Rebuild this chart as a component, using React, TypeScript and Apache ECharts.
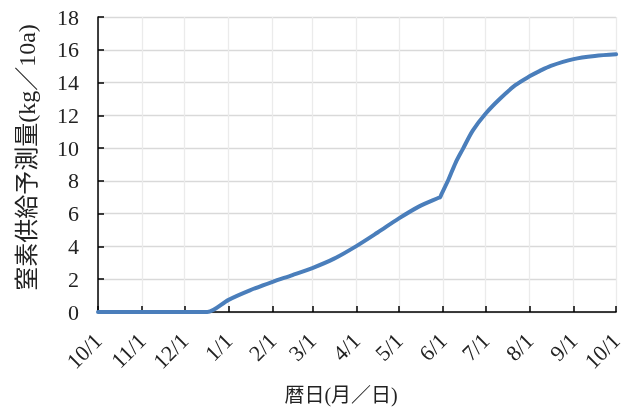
import React, { useEffect, useRef } from "react";
import * as echarts from "echarts";

// Daily calendar from 10/1 to next 10/1 (non-leap year)
const START = new Date(2021, 9, 1);
const DAY_COUNT = 366;
const categories: string[] = [];
for (let i = 0; i < DAY_COUNT; i++) {
  const d = new Date(START.getFullYear(), START.getMonth(), START.getDate() + i);
  categories.push(`${d.getMonth() + 1}/${d.getDate()}`);
}

// Day index (days since 10/1) and predicted nitrogen supply (kg/10a)
const dayIndex = [0, 76, 77, 92, 107, 123, 137, 151, 166, 182, 197, 212, 226, 240, 241, 242, 247, 252, 257, 264, 273, 283, 294, 304, 311, 319, 335, 350, 365];
const nitrogen = [0, 0, 0, 0.74, 1.32, 1.84, 2.25, 2.68, 3.24, 4.02, 4.85, 5.71, 6.43, 6.97, 7.0, 7.19, 8.1, 9.12, 9.94, 11.07, 12.1, 13.0, 13.84, 14.38, 14.7, 15.02, 15.43, 15.62, 15.72];

const yTicks = { min: 0, max: 18, interval: 2 };
const xName = "暦日(月／日)";
const yName = "窒素供給予測量(kg／10a)";

const FONT = "Liberation Serif, Noto Sans CJK JP, serif";

export default function App() {
  const ref = useRef<HTMLDivElement>(null);
  useEffect(() => {
    if (!ref.current) return;
    const chart = echarts.init(ref.current, undefined, { renderer: "svg", width: 626, height: 410 });
    const isMonthStart = (_i: number, v: string) => /\/1$/.test(v);
    chart.setOption({
      animation: false,
      grid: { left: 98, right: 9, top: 17, bottom: 98, containLabel: false },
      xAxis: {
        type: "category",
        data: categories,
        boundaryGap: false,
        name: xName,
        nameLocation: "middle",
        nameGap: 73,
        nameTextStyle: { fontFamily: FONT, fontSize: 20, color: "#222", padding: [0, 32, 0, 0] },
        axisLine: { lineStyle: { color: "#000", width: 1.5 } },
        axisTick: { show: true, inside: true, length: 6, interval: isMonthStart, lineStyle: { color: "#000", width: 1.5 } },
        axisLabel: {
          interval: isMonthStart,
          rotate: 45,
          fontFamily: FONT,
          fontSize: 22,
          color: "#222",
          margin: 25,
        },
        splitLine: { show: true, interval: isMonthStart, lineStyle: { color: "#ebebeb", width: 1.3 } },
      },
      yAxis: {
        type: "value",
        min: yTicks.min,
        max: yTicks.max,
        interval: yTicks.interval,
        name: yName,
        nameLocation: "middle",
        nameRotate: 90,
        nameGap: 59,
        nameTextStyle: { fontFamily: FONT, fontSize: 24, color: "#222", padding: [0, 0, 0, 14] },
        axisLine: { show: true, lineStyle: { color: "#000", width: 1.5 } },
        axisTick: { show: true, inside: true, length: 6, lineStyle: { color: "#000", width: 1.5 } },
        axisLabel: { fontFamily: FONT, fontSize: 22, color: "#222", margin: 19 },
        splitLine: { show: true, lineStyle: { color: "#d9d9d9", width: 1.3 } },
      },
      series: [
        {
          type: "line",
          data: dayIndex.map((d, i) => [d, nitrogen[i]]),
          showSymbol: false,
          smooth: 0.3,
          lineStyle: { color: "#4a7ebb", width: 4, cap: "round", join: "round" },
          itemStyle: { color: "#4a7ebb" },
        },
      ],
    });
    return () => chart.dispose();
  }, []);
  return (
    <div
      ref={ref}
      style={{ position: "fixed", left: 0, top: 0, width: 626, height: 410 }}
    />
  );
}
